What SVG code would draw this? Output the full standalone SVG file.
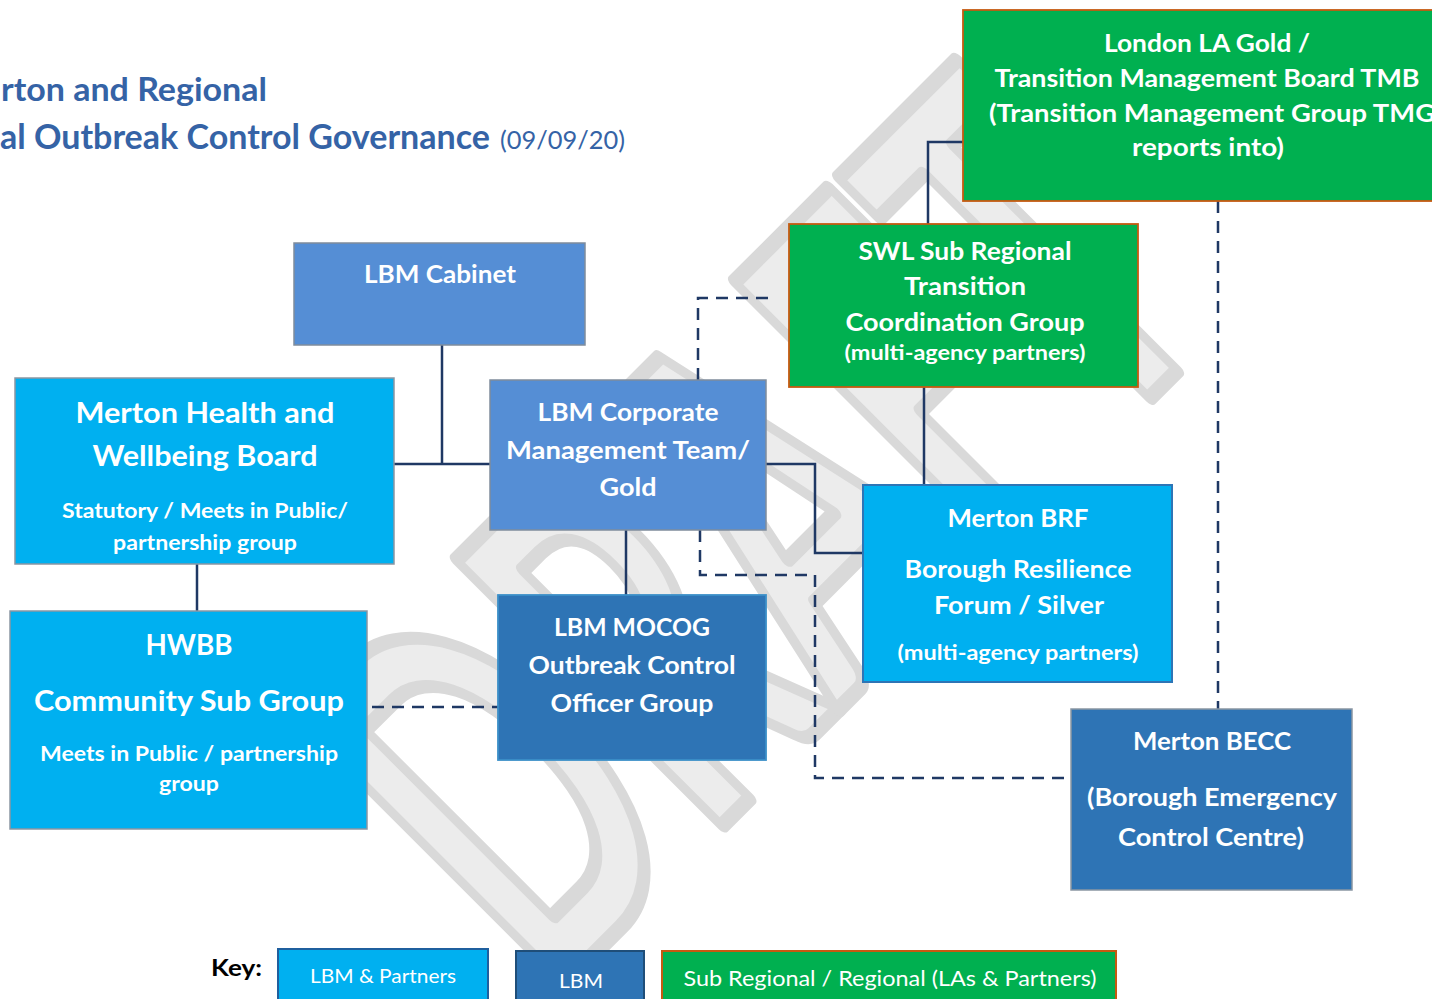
<svg xmlns="http://www.w3.org/2000/svg" width="1432" height="999" viewBox="0 0 1432 999">
<style>
.t{font-family:Lato,"Open Sans","Liberation Sans",sans-serif;font-weight:700;fill:#ffffff;text-anchor:middle}
.ttl{font-family:Lato,"Open Sans","Liberation Sans",sans-serif;font-weight:700;fill:#3563a6}
.lb{fill:#00b0f0;stroke:#8a96a3;stroke-width:1.5}
.mb{fill:#558ed5;stroke:#7f8c9c;stroke-width:1.5}
.db{fill:#2e74b5;stroke:#8a96a3;stroke-width:1.5}
.gr{fill:#00b050;stroke:#c55a11;stroke-width:1.8}
.c{fill:none;stroke:#1f3864;stroke-width:2.5}
.d{fill:none;stroke:#1f3864;stroke-width:2.5;stroke-dasharray:12 8}
.key{font-family:Lato,"Open Sans","Liberation Sans",sans-serif;font-weight:400;fill:#ffffff;text-anchor:middle}
</style>
<rect width="1432" height="999" fill="#ffffff"/>
<g id="watermark" transform="translate(755,530) rotate(-45) scale(0.588,1)">
<text x="0" y="186" text-anchor="middle" font-family="Lato,'Liberation Sans',sans-serif" font-weight="700" font-size="520" textLength="1633" lengthAdjust="spacingAndGlyphs" fill="#ececec" stroke="#d9d9d9" stroke-width="16" stroke-linejoin="round">DRAFT</text>
</g>
<g id="title">
<text class="ttl" x="1" y="101" font-size="33" textLength="266" lengthAdjust="spacingAndGlyphs">rton and Regional</text>
<text class="ttl" x="0" y="149" font-size="34" textLength="490" lengthAdjust="spacingAndGlyphs">al Outbreak Control Governance</text>
<text x="500" y="149" font-family="Lato,'Open Sans','Liberation Sans',sans-serif" font-size="25" fill="#3563a6" textLength="125" lengthAdjust="spacingAndGlyphs">(09/09/20)</text>
</g>
<g id="connectors">
<path class="c" d="M442,345 V464"/>
<path class="c" d="M394,464 H490"/>
<path class="c" d="M197,564 V611"/>
<path class="c" d="M626,530 V595"/>
<path class="c" d="M766,464 H815 V553 H863"/>
<path class="c" d="M963,142 H928 V224"/>
<path class="c" d="M924,387 V485"/>
<path class="d" d="M698,380 V298 H768"/>
<path class="d" d="M700,530 V575 H815 V778 H1071"/>
<path class="d" d="M372,707 H498"/>
<path class="d" d="M1218,201 V709"/>
</g>
<g id="node-london">
<rect class="gr" x="963" y="10" width="480" height="191"/>
<text class="t" x="1207" y="52" font-size="25" textLength="206" lengthAdjust="spacingAndGlyphs">London LA Gold /</text>
<text class="t" x="1207" y="87" font-size="25" textLength="425" lengthAdjust="spacingAndGlyphs">Transition Management Board TMB</text>
<text class="t" x="989" y="122" font-size="25" style="text-anchor:start" textLength="446" lengthAdjust="spacingAndGlyphs">(Transition Management Group TMG</text>
<text class="t" x="1208" y="156" font-size="25" textLength="152" lengthAdjust="spacingAndGlyphs">reports into)</text>
</g>
<g id="node-swl">
<rect class="gr" x="789" y="224" width="349" height="163"/>
<text class="t" x="965" y="260" font-size="25" textLength="213" lengthAdjust="spacingAndGlyphs">SWL Sub Regional</text>
<text class="t" x="965" y="295" font-size="25" textLength="122" lengthAdjust="spacingAndGlyphs">Transition</text>
<text class="t" x="965" y="331" font-size="25" textLength="239" lengthAdjust="spacingAndGlyphs">Coordination Group</text>
<text class="t" x="965" y="360" font-size="20" textLength="241" lengthAdjust="spacingAndGlyphs">(multi-agency partners)</text>
</g>
<g id="node-cabinet">
<rect class="mb" x="294" y="243" width="291" height="102"/>
<text class="t" x="440" y="283" font-size="24" textLength="152" lengthAdjust="spacingAndGlyphs">LBM Cabinet</text>
</g>
<g id="node-hwb">
<rect class="lb" x="15" y="378" width="379" height="186"/>
<text class="t" x="205" y="423" font-size="28" textLength="259" lengthAdjust="spacingAndGlyphs">Merton Health and</text>
<text class="t" x="205" y="466" font-size="28" textLength="225" lengthAdjust="spacingAndGlyphs">Wellbeing Board</text>
<text class="t" x="205" y="518" font-size="21" textLength="286" lengthAdjust="spacingAndGlyphs">Statutory / Meets in Public/</text>
<text class="t" x="205" y="550" font-size="21" textLength="184" lengthAdjust="spacingAndGlyphs">partnership group</text>
</g>
<g id="node-corporate">
<rect class="mb" x="490" y="380" width="276" height="150"/>
<text class="t" x="628" y="421" font-size="25" textLength="181" lengthAdjust="spacingAndGlyphs">LBM Corporate</text>
<text class="t" x="628" y="459" font-size="25" textLength="244" lengthAdjust="spacingAndGlyphs">Management Team/</text>
<text class="t" x="628" y="496" font-size="25" textLength="57" lengthAdjust="spacingAndGlyphs">Gold</text>
</g>
<g id="node-brf">
<rect x="863" y="485" width="309" height="197" fill="#00b0f0" stroke="#2e75b6" stroke-width="2"/>
<text class="t" x="1018" y="527" font-size="25" textLength="141" lengthAdjust="spacingAndGlyphs">Merton BRF</text>
<text class="t" x="1018" y="578" font-size="25" textLength="227" lengthAdjust="spacingAndGlyphs">Borough Resilience</text>
<text class="t" x="1019" y="614" font-size="25" textLength="170" lengthAdjust="spacingAndGlyphs">Forum / Silver</text>
<text class="t" x="1018" y="660" font-size="21" textLength="241" lengthAdjust="spacingAndGlyphs">(multi-agency partners)</text>
</g>
<g id="node-hwbb">
<rect class="lb" x="10" y="611" width="357" height="218"/>
<text class="t" x="189" y="655" font-size="28" textLength="87" lengthAdjust="spacingAndGlyphs">HWBB</text>
<text class="t" x="189" y="711" font-size="28" textLength="310" lengthAdjust="spacingAndGlyphs">Community Sub Group</text>
<text class="t" x="189" y="761" font-size="21" textLength="298" lengthAdjust="spacingAndGlyphs">Meets in Public / partnership</text>
<text class="t" x="189" y="791" font-size="21" textLength="60" lengthAdjust="spacingAndGlyphs">group</text>
</g>
<g id="node-mocog">
<rect x="498" y="595" width="268" height="165" fill="#2e74b5" stroke="#3b8fc8" stroke-width="1.8"/>
<text class="t" x="632" y="636" font-size="25" textLength="156" lengthAdjust="spacingAndGlyphs">LBM MOCOG</text>
<text class="t" x="632" y="674" font-size="25" textLength="207" lengthAdjust="spacingAndGlyphs">Outbreak Control</text>
<text class="t" x="632" y="712" font-size="25" textLength="163" lengthAdjust="spacingAndGlyphs">Officer Group</text>
</g>
<g id="node-becc">
<rect class="db" x="1071" y="709" width="281" height="181"/>
<text class="t" x="1212" y="750" font-size="25" textLength="158" lengthAdjust="spacingAndGlyphs">Merton BECC</text>
<text class="t" x="1212" y="806" font-size="25" textLength="250" lengthAdjust="spacingAndGlyphs">(Borough Emergency</text>
<text class="t" x="1211" y="846" font-size="25" textLength="186" lengthAdjust="spacingAndGlyphs">Control Centre)</text>
</g>
<g id="key">
<text x="211" y="976" font-family="Lato,'Open Sans','Liberation Sans',sans-serif" font-weight="700" font-size="22" fill="#000000" textLength="51" lengthAdjust="spacingAndGlyphs">Key:</text>
<rect x="278" y="949" width="210" height="60" fill="#00b0f0" stroke="#1f5f9e" stroke-width="2"/>
<text class="key" x="383" y="983" font-size="20" textLength="146" lengthAdjust="spacingAndGlyphs">LBM &amp; Partners</text>
<rect x="516" y="951" width="128" height="60" fill="#2e74b5" stroke="#1f4e79" stroke-width="2"/>
<text class="key" x="581" y="988" font-size="20" textLength="44" lengthAdjust="spacingAndGlyphs">LBM</text>
<rect x="662" y="951" width="454" height="60" fill="#00b050" stroke="#c55a11" stroke-width="2"/>
<text class="key" x="890" y="986" font-size="21" textLength="413" lengthAdjust="spacingAndGlyphs">Sub Regional / Regional (LAs &amp; Partners)</text>
</g>
</svg>
